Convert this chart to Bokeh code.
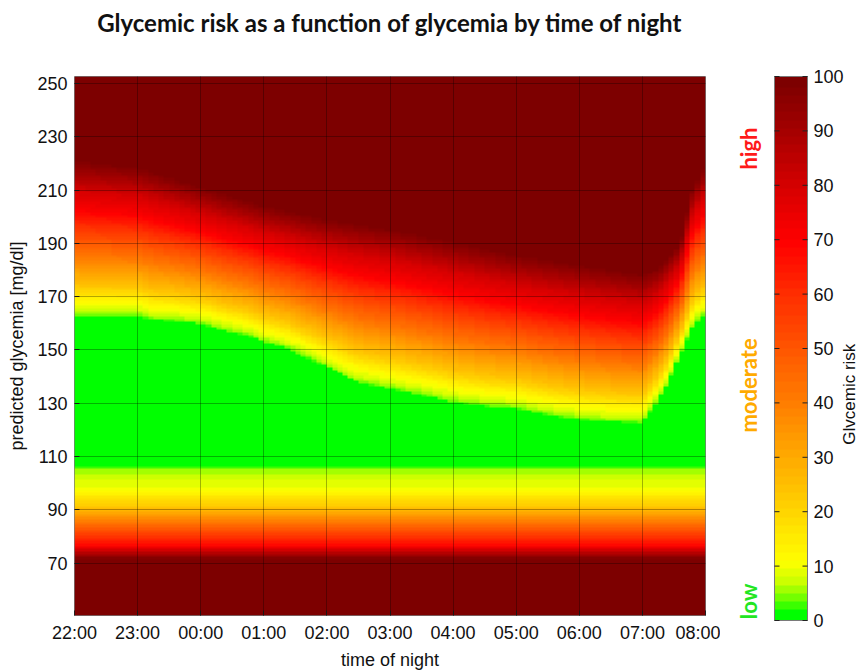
import numpy as np
from bokeh.plotting import figure
from bokeh.models import LinearColorMapper, FixedTicker, Range1d
from bokeh.core.properties import value
from bokeh.layouts import row, column
from bokeh.embed import file_html
from bokeh.resources import INLINE

# ---------------- data ----------------
TITLE = "Glycemic risk as a function of glycemia by time of night"
hour_ticks = [0, 1, 2, 3, 4, 5, 6, 7, 8, 9, 10]
hour_labels = ["22:00", "23:00", "00:00", "01:00", "02:00", "03:00",
               "04:00", "05:00", "06:00", "07:00", "08:00"]
glucose_ticks = [70, 90, 110, 130, 150, 170, 190, 210, 230, 250]
risk_ticks = [0, 10, 20, 30, 40, 50, 60, 70, 80, 90, 100]
risk_tick_labels = ["0", "10", "20", "30", "40", "50", "60", "70", "80", "90", "100"]

# upper edge of the green (no-risk) zone, hours after 22:00 -> mg/dl
green_time = [0, 1, 1.22, 1.58, 2, 2.38, 2.75, 3, 3.37, 4, 4.47, 5, 5.53, 6,
              6.58, 7, 7.5, 8, 8.5, 9, 9.18, 9.4, 9.6, 9.82, 10]
green_top = [162.5, 162.5, 161.0, 160.6, 159.4, 156.9, 155.0, 152.6, 150.3,
             143.3, 137.7, 135.2, 132.7, 130.2, 128.4, 127.8, 125.3, 123.7,
             122.8, 122.4, 128.4, 137.0, 148.2, 159.4, 163.0]

# lower edge of the maximal-risk (dark red) zone
dark_time = [0, 1, 2, 3, 4, 5, 6, 7, 8, 9, 9.25, 9.6, 9.78, 10]
dark_top = [221.5, 219.0, 211.5, 204.5, 199.5, 195.8, 191.0, 186.0, 182.3,
            178.6, 181.0, 190.0, 210.0, 220.0]

# risk across the hyperglycemic band (0 = green edge, 1 = dark red edge)
high_frac = [0, 0.01, 0.05, 0.10, 0.15, 0.20, 0.30, 0.40, 0.50, 0.60, 0.67,
             0.80, 0.90, 1.00]
high_risk = [0, 4, 8, 12, 18, 24, 33, 43, 52, 62, 70, 80, 90, 100]

# risk on the hypoglycemic side (same all night)
low_glucose = [71.5, 74.0, 76.4, 80.0, 84.0, 88.8, 92.5, 98.0, 104.8, 107.5]
low_risk = [100, 85, 70, 58, 45, 30, 20, 10, 5, 0]

# colour scale anchors (risk -> rgb)
cmap_risk = [0, 3, 6, 10, 20, 30, 40, 50, 60, 70, 80, 90, 100]
cmap_r = [0, 110, 200, 255, 255, 255, 255, 255, 255, 255, 215, 168, 125]
cmap_g = [255, 255, 255, 255, 210, 168, 125, 85, 45, 0, 0, 0, 0]
cmap_b = [0, 0, 0, 0, 0, 0, 0, 0, 0, 0, 0, 0, 0]

band_labels = ["high", "moderate", "low"]
band_colors = ["#ff1a1a", "#ffaa00", "#22e622"]
band_glucose = [225.8, 137.7, 57.4]

COLORBAR_TITLE = "Glvcemic risk"
colorbar_title_risk = 41.6

# ---------------- layout constants ----------------
W, H = 860, 672
TITLE_H = 40             # strip holding the chart title
LEFT, FRAME_W = 74, 631  # heat-map frame 74..705
MAIN_W = 720
TOP, BOTTOM = 76, 52     # frame 76..620 on the page
FRAME_H = H - TOP - BOTTOM
ROW_H = H - TITLE_H
ROW_TOP = TOP - TITLE_H
SIDE_W = W - MAIN_W
BAR_X0, BAR_W = 774 - MAIN_W, 33

# ---------------- derived grid / palette ----------------
T0, T1 = 0.0, 10.0
G0, G1 = 50.3, 252.6
ncol, nrow = 120, 202
t = T0 + (np.arange(ncol) + 0.5) * (T1 - T0) / ncol
g = G0 + (np.arange(nrow) + 0.5) * (G1 - G0) / nrow
gt = np.interp(t, green_time, green_top)
dt = np.interp(t, dark_time, dark_top)
frac = (g[:, None] - gt[None, :]) / (dt - gt)[None, :]
high = np.where(frac > 0, np.interp(frac, high_frac, high_risk), 0.0)
low = np.interp(g, low_glucose, low_risk)[:, None] * np.ones((1, ncol))
risk = np.clip(np.maximum(high, low), 0, 100)

levels = np.linspace(0, 100, 64)
pal = ["#%02x%02x%02x" % (int(round(np.interp(v, cmap_risk, cmap_r))),
                          int(round(np.interp(v, cmap_risk, cmap_g))),
                          int(round(np.interp(v, cmap_risk, cmap_b)))) for v in levels]
mapper = LinearColorMapper(palette=pal, low=0, high=100)

FONT = "Liberation Sans"
FS = "18px"
INK = "#111111"

# ---------------- title strip ----------------
tf = figure(width=W, height=TITLE_H, output_backend="svg", toolbar_location=None,
            x_range=Range1d(0, W), y_range=Range1d(0, TITLE_H),
            min_border_left=0, min_border_right=0, min_border_top=0,
            min_border_bottom=0, x_axis_location=None, y_axis_location=None)
tf.grid.visible = False
tf.outline_line_color = None
tf.text(x=[LEFT + FRAME_W / 2], y=[TITLE_H - 22], text=[TITLE],
        text_align="center", text_baseline="middle", text_color=INK,
        text_font=value("Lato"), text_font_style="bold", text_font_size=value("24px"))

# ---------------- main heat map ----------------
p = figure(width=MAIN_W, height=ROW_H, output_backend="svg", toolbar_location=None,
           x_range=Range1d(T0, T1), y_range=Range1d(G0, G1),
           min_border_left=LEFT, min_border_right=MAIN_W - LEFT - FRAME_W,
           min_border_top=ROW_TOP, min_border_bottom=BOTTOM)
p.image(image=[risk], x=T0, y=G0, dw=T1 - T0, dh=G1 - G0, color_mapper=mapper)

p.xaxis.ticker = FixedTicker(ticks=hour_ticks)
p.xaxis.major_label_overrides = {h: s for h, s in zip(hour_ticks, hour_labels)}
p.yaxis.ticker = FixedTicker(ticks=glucose_ticks)
p.xaxis.axis_label = "time of night"
p.yaxis.axis_label = "predicted glycemia [mg/dl]"
for ax in (p.xaxis[0], p.yaxis[0]):
    ax.major_label_text_font = FONT
    ax.major_label_text_font_size = FS
    ax.major_label_text_color = INK
    ax.axis_label_text_font = FONT
    ax.axis_label_text_font_size = FS
    ax.axis_label_text_font_style = "normal"
    ax.axis_label_text_color = INK
    ax.major_tick_in = 5
    ax.major_tick_out = 0
    ax.minor_tick_line_color = None
    ax.axis_line_color = None
    ax.major_tick_line_color = "#222222"
    ax.major_label_standoff = 7
p.yaxis.axis_label_standoff = 7
p.xaxis.axis_label_standoff = 4

p.xgrid.ticker = FixedTicker(ticks=hour_ticks)
p.ygrid.ticker = FixedTicker(ticks=glucose_ticks)
for gr in (p.xgrid[0], p.ygrid[0]):
    gr.level = "overlay"
    gr.grid_line_color = "#000000"
    gr.grid_line_alpha = 0.3
    gr.grid_line_width = 1
p.outline_line_color = "#7a7a7a"
p.outline_line_width = 1

# ---------------- side panel: band names + colour bar ----------------
side = figure(width=SIDE_W, height=ROW_H, output_backend="svg", toolbar_location=None,
              x_range=Range1d(0, SIDE_W),
              min_border_left=0, min_border_right=0, min_border_top=0,
              min_border_bottom=0, x_axis_location=None, y_axis_location=None)
try:
    side.frame_align = False          # let this panel's frame fill its whole height
    pad_top, pad_bottom = ROW_TOP, BOTTOM
except AttributeError:
    pad_top, pad_bottom = 0, 0
g_per_px = (G1 - G0) / FRAME_H
r_per_px = 100.0 / FRAME_H
side.y_range = Range1d(G0 - pad_bottom * g_per_px, G1 + pad_top * g_per_px)
side.extra_y_ranges = {"risk": Range1d(-pad_bottom * r_per_px, 100 + pad_top * r_per_px)}
side.grid.visible = False
side.outline_line_color = None

side.text(x=[748 - MAIN_W] * len(band_labels), y=band_glucose, text=band_labels,
          angle=np.pi / 2, text_align="center", text_baseline="middle",
          text_color=band_colors, text_font=value("Lato"),
          text_font_style="bold", text_font_size=value("22px"))

bar_vals = np.linspace(0, 100, 200)[:, None]
side.image(image=[bar_vals], x=BAR_X0, y=0, dw=BAR_W, dh=100,
           color_mapper=mapper, y_range_name="risk")
side.quad(left=[BAR_X0], right=[BAR_X0 + BAR_W], bottom=[0], top=[100],
          fill_color=None, line_color="#7a7a7a", line_width=1, y_range_name="risk")
nt = len(risk_ticks)
side.segment(x0=[BAR_X0] * nt, x1=[BAR_X0 + 5] * nt, y0=risk_ticks, y1=risk_ticks,
             line_color="#222222", line_width=1, y_range_name="risk")
side.segment(x0=[BAR_X0 + BAR_W - 5] * nt, x1=[BAR_X0 + BAR_W] * nt, y0=risk_ticks,
             y1=risk_ticks, line_color="#222222", line_width=1, y_range_name="risk")
side.text(x=[BAR_X0 + BAR_W + 6] * nt, y=risk_ticks, text=risk_tick_labels,
          text_align="left", text_baseline="middle", text_color=INK,
          text_font=value(FONT), text_font_size=value(FS), y_range_name="risk")
side.text(x=[849 - MAIN_W], y=[colorbar_title_risk], text=[COLORBAR_TITLE],
          angle=np.pi / 2, text_align="center", text_baseline="middle",
          text_color=INK, text_font=value(FONT), text_font_size=value("17px"),
          y_range_name="risk")

layout = column(tf, row(p, side))
open("out.html", "w").write(file_html(layout, INLINE))
